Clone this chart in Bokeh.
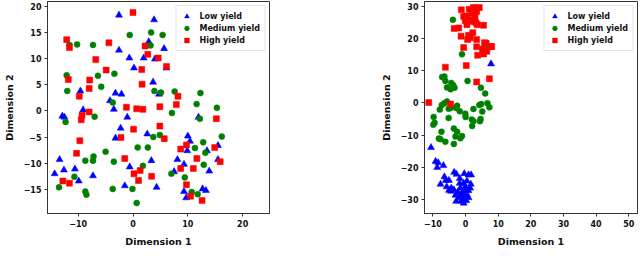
from bokeh.plotting import figure
from bokeh.layouts import row
from bokeh.models import FixedTicker, CustomJSTickFormatter, Range1d
from bokeh.embed import file_html
from bokeh.resources import INLINE

# ---------------- data: left panel ----------------
left_low_x = [-2.56, 3.84, 2.87, 5.67, -2.56, -0.67, 1.95, 4.0, 0.18, 6.1, 3.66, -9.6, -3.2, -2.1, 4.75,
              -4.2, -3.5, -9.1, -12.9, -12.5, -1.04, 11.95, -2.26, -3.2, 2.6, 10.0, 10.4, 9.9, 13.5, 15.5,
              -13.4, 8.1, 3.35, 15.5, 9.3, -0.6, -10.6, -12.6, 7.5, 13.9, -14.3, -7.3, -9.9, -1.5, 4.3,
              9.3, 12.7, 13.3, 9.7]
left_low_y = [18.3, 17.4, 13.2, 11.9, 11.6, 10.1, 10.1, 9.9, 8.2, 8.2, 5.5, 3.8, 3.4, 3.2, 3.2,
              1.95, 0.3, 0.2, -1.0, -1.2, -1.2, -1.2, -3.3, -5.2, -4.4, -4.8, -5.8, -7.6, -7.6, -6.6,
              -9.3, -9.3, -9.5, -9.3, -10.2, -10.7, -11.1, -11.3, -11.6, -11.5, -12.0, -12.4, -13.4, -14.3, -14.6,
              -15.4, -14.9, -15.2, -16.6]
left_med_x = [-0.6, 3.3, 5.4, -11.6, -10.2, -7.3, 3.2, -12.1, -6.4, -3.4, -5.8, -12.0, 3.9, 5.1, 7.6,
              12.3, -3.7, 11.6, 15.3, 7.1, -7.0, 12.2, -12.3, 3.7, 4.9, 16.2, 12.8, 0.85, 2.7, 11.3,
              13.2, -5.0, -7.2, -8.7, -7.3, -3.5, 1.8, 12.9, 7.0, -10.7, 9.45, -13.5, -3.7, -0.1, -8.7,
              -8.5, 10.7, 11.8, 0.67]
left_med_y = [14.5, 15.0, 14.5, 12.6, 12.7, 12.6, 12.5, 6.8, 6.7, 7.1, 4.6, 3.8, 3.8, 3.5, 3.7,
              3.4, 1.6, 1.3, 0.6, -0.4, -1.1, -1.5, -2.1, -5.0, -4.6, -4.9, -6.0, -7.0, -7.0, -7.1,
              -8.0, -7.8, -8.7, -9.5, -9.5, -9.7, -10.5, -10.3, -12.0, -12.6, -12.7, -14.6, -14.9, -14.9, -15.4,
              -16.0, -15.5, -15.9, -17.6]
left_high_x = [0.0, -12.1, -11.6, -4.4, 2.2, -6.8, 2.7, 4.6, 6.1, -4.9, 1.6, -11.8, -7.9, 1.65, -8.0,
               -9.8, 8.2, 7.9, -1.2, 0.67, 1.8, 4.9, -8.0, -9.3, -9.45, 15.2, 4.9, 0.1, -2.2, 5.7,
               -9.7, 9.75, 8.7, 14.9, -10.3, -1.5, 11.65, 15.9, 8.7, 11.0, 1.3, 0.18, 3.4, 1.0, -12.8,
               -11.6, 9.75, 10.5, 12.6]
left_high_y = [18.8, 13.6, 12.1, 13.0, 12.4, 9.8, 10.8, 10.1, 8.5, 7.8, 7.9, 6.0, 5.9, 5.1, 4.3,
               2.8, 2.8, 1.2, 0.7, 0.4, 0.3, 0.8, -0.2, -0.85, -1.7, -1.5, -2.9, -3.5, -5.1, -5.3,
               -5.7, -6.5, -7.3, -7.0, -8.1, -9.1, -9.1, -9.7, -11.0, -11.0, -11.4, -12.0, -12.5, -13.3, -13.4,
               -13.8, -14.1, -16.3, -17.1]

# ---------------- data: right panel ----------------
right_low_x = [7.8, -10.6, -9.2, -8.4, -8.7, -6.8, -7.7, -6.5, -6.1, -5.1, -5.8, -5.1, -4.5, -3.5, -2.8,
               -1.8, -0.4, 0.9, 1.7, 1.6, 0.4, -0.6, -3.6, -2.4, -1.6, -1.1, -0.1, 0.4, -2.9, -2.1,
               -1.4, -0.6, -0.8, 0.2, -1.6, -0.4, 0.9, 1.4, -3.1, -4.4, 0.9, -1.8, -0.1]
right_low_y = [12.1, -13.9, -18.2, -18.6, -20.1, -19.5, -25.3, -23.0, -24.1, -24.1, -26.1, -27.2, -27.5, -21.6, -22.2,
               -23.5, -22.0, -22.4, -22.4, -25.3, -24.3, -25.0, -27.0, -27.7, -26.5, -28.0, -27.3, -28.5, -30.6, -29.5,
               -30.6, -31.2, -30.0, -30.4, -28.7, -29.0, -27.3, -26.5, -28.7, -26.5, -29.5, -25.0, -26.0]
right_med_x = [-3.9, -1.1, 5.9, 0.6, -7.2, -6.5, -6.2, -4.4, -3.8, -4.6, -5.7, -3.4, 4.7, 6.0,
               -7.3, -6.5, -5.7, -7.9, -5.2, -4.6, -2.9, -1.8, -2.6, -0.1, 0.0, 2.4, 2.4, 2.0, 4.2, 4.8,
               5.1, 4.6, 6.7, 7.3, -9.8, -9.9, -9.5, -8.2, -7.4, -6.2, -3.6, -3.1, -2.6, -3.6, -1.1,
               -5.2, 1.9, 4.4, -7.7, -1.6]
right_med_y = [25.8, 15.1, 17.2, 6.8, 8.0, 8.2, 6.8, 6.2, 5.5, 4.2, 4.8, 4.7, 4.7, 2.9,
               -0.7, -0.1, 0.4, -2.1, -1.8, -1.6, -1.6, -2.6, -0.9, -3.4, -4.4, -1.9, -5.7, -7.2, -0.7, -0.4,
               -2.7, -5.0, -0.1, -1.4, -4.4, -6.8, -6.2, -11.1, -9.0, -12.1, -8.0, -10.5, -9.0, -12.8, -10.3,
               -4.7, -5.2, -5.7, -11.3, -11.0]
right_high_x = [-1.3, 1.1, 2.4, 4.2, 3.4, 1.9, 0.2, 2.9, -0.1, 1.4, 3.2, 0.4, 5.5, -2.1, -3.5,
                2.2, 0.9, -1.4, 3.4, 1.4, 5.8, 8.0, -0.6, 3.4, 5.2, 6.5, 3.7, 5.5, 0.2, -6.2,
                7.3, 3.4, -11.3, -4.6, -0.6, 1.6, 3.6, 6.3, 7.7, 0.6, 3.0]
right_high_y = [28.9, 29.1, 29.6, 29.6, 28.4, 27.9, 27.0, 26.5, 25.5, 25.3, 24.8, 24.3, 24.1, 23.3, 23.1,
                21.8, 21.0, 20.7, 19.7, 20.2, 18.7, 17.5, 17.2, 17.4, 16.7, 16.0, 14.8, 15.2, 11.6, 11.1,
                7.5, 6.5, 0.1, -0.4, 26.8, 25.9, 24.3, 18.5, 17.5, 19.7, 29.5]

left_xticks = [-10, 0, 10, 20]
left_yticks = [-15, -10, -5, 0, 5, 10, 15, 20]
right_xticks = [-10, 0, 10, 20, 30, 40, 50]
right_yticks = [-30, -20, -10, 0, 10, 20, 30]

series_labels = ["Low yield", "Medium yield", "High yield"]
series_colors = ["#0000ff", "#008000", "#ff0000"]
series_markers = ["triangle", "circle", "square"]

FONT = "DejaVu Sans"
fmt = CustomJSTickFormatter(code="return String(tick).replace('-', '\u2212');")


def make_fig(x_range, y_range, xticks, yticks, data, border_left, frame_w, border_right):
    p = figure(frame_width=frame_w, frame_height=212, output_backend="svg", toolbar_location=None,
               x_range=Range1d(*x_range), y_range=Range1d(*y_range),
               min_border_left=border_left, min_border_right=border_right,
               min_border_top=1, min_border_bottom=27)
    p.background_fill_color = "white"
    p.border_fill_color = "white"
    p.outline_line_color = "#333333"
    p.outline_line_width = 1
    p.xgrid.visible = False
    p.ygrid.visible = False
    sizes = [7, 6, 6]
    for (xs, ys), lab, col, mk, sz in zip(data, series_labels, series_colors, series_markers, sizes):
        p.scatter(xs, ys, marker=mk, size=sz, fill_color=col, line_color=col, line_width=0.5,
                  legend_label=lab)
    for ax, ticks in ((p.xaxis[0], xticks), (p.yaxis[0], yticks)):
        ax.ticker = FixedTicker(ticks=ticks)
        ax.formatter = fmt
        ax.minor_tick_line_color = None
        ax.major_tick_out = 3
        ax.major_tick_in = 0
        ax.major_tick_line_color = "#333333"
        ax.axis_line_color = "#333333"
        ax.major_label_text_font = FONT
        ax.major_label_text_font_style = "bold"
        ax.major_label_text_font_size = "8px"
        ax.major_label_text_color = "#111111"
        ax.axis_label_text_font = FONT
        ax.axis_label_text_font_style = "bold"
        ax.axis_label_text_font_size = "9.5px"
        ax.axis_label_text_color = "#111111"
        ax.major_label_standoff = 3
        ax.axis_label_standoff = 6
    p.xaxis[0].axis_label = "Dimension 1"
    p.yaxis[0].axis_label = "Dimension 2"
    lg = p.legend[0]
    lg.location = "top_right"
    lg.margin = 4
    lg.padding = 4
    lg.spacing = 0
    lg.label_height = 12
    lg.glyph_height = 12
    lg.glyph_width = 12
    lg.label_standoff = 7
    lg.label_text_font = FONT
    lg.label_text_font_style = "bold"
    lg.label_text_font_size = "8px"
    lg.label_text_color = "#111111"
    lg.border_line_color = "#cccccc"
    lg.border_line_width = 1
    lg.background_fill_alpha = 0.9
    return p


p1 = make_fig((-15.6, 24.9), (-19.6, 20.9), left_xticks, left_yticks,
              [(left_low_x, left_low_y), (left_med_x, left_med_y), (left_high_x, left_high_y)],
              32, 222, 58)
p2 = make_fig((-12.6, 52.7), (-34.4, 31.5), right_xticks, right_yticks,
              [(right_low_x, right_low_y), (right_med_x, right_med_y), (right_high_x, right_high_y)],
              97, 213, 2)

layout = row(p1, p2, spacing=0)
open("out.html", "w").write(file_html(layout, INLINE))
